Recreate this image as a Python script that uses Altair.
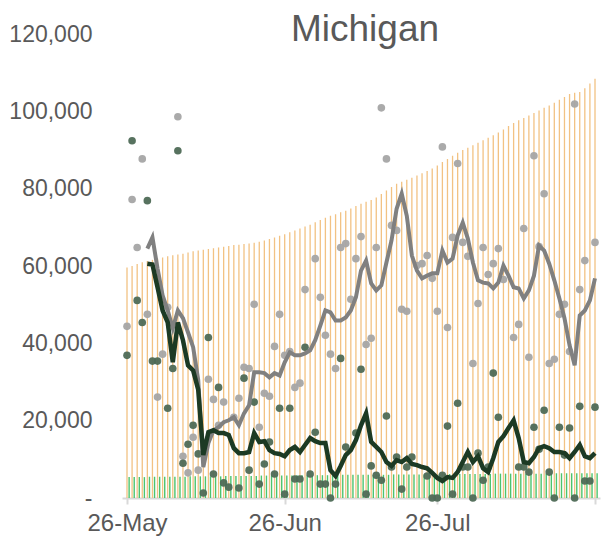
import altair as alt
import pandas as pd

START = "2020-05-26"
END = "2020-08-26"

# Daily values, thousands, starting 26-May (day 0 .. day 92)
capacity_k = [59.6, 60.0, 60.5, 61.0, 61.3, 61.6, 61.9, 62.2, 62.5, 62.8,
              63.0, 63.2, 63.5, 63.8, 64.0, 64.2, 64.4, 64.6, 64.8, 65.0,
              65.2, 65.4, 65.5, 65.7, 65.8, 66.0, 66.3, 66.6, 67.0, 67.4,
              67.8, 68.2, 68.7, 69.2, 69.7, 70.2, 70.7, 71.3, 71.9, 72.5,
              73.0, 73.4, 73.9, 74.3, 74.9, 75.5, 76.1, 76.6, 77.1, 77.7,
              78.6, 79.5, 80.4, 81.3, 81.8, 82.3, 82.8, 83.4, 84.0, 84.6,
              85.2, 86.0, 86.9, 87.7, 88.5, 89.3, 90.0, 90.6, 91.2, 91.9,
              92.5, 93.2, 93.8, 94.5, 95.3, 96.2, 97.0, 97.7, 98.3, 98.9,
              99.6, 100.2, 100.9, 101.5, 102.2, 103.0, 103.7, 104.5, 104.8, 105.0,
              106.0, 107.2, 108.4]

baseline_k = [5.4, 5.4, 5.4, 5.4, 5.5, 5.5, 5.5, 5.5, 5.5, 5.5,
              5.5, 5.5, 5.6, 5.6, 5.6, 5.6, 5.6, 5.6, 5.6, 5.7,
              5.7, 5.7, 5.7, 5.7, 5.7, 5.7, 5.8, 5.8, 5.8, 5.8,
              5.8, 5.8, 5.8, 5.9, 5.9, 5.9, 5.9, 5.9, 5.9, 5.9,
              5.9, 6.0, 6.0, 6.0, 6.0, 6.0, 6.0, 6.0, 6.0, 6.0,
              6.0, 6.0, 6.1, 6.1, 6.1, 6.1, 6.1, 6.1, 6.1, 6.1,
              6.1, 6.1, 6.2, 6.2, 6.2, 6.2, 6.2, 6.2, 6.2, 6.2,
              6.2, 6.2, 6.3, 6.3, 6.3, 6.3, 6.3, 6.3, 6.3, 6.3,
              6.3, 6.3, 6.3, 6.4, 6.4, 6.4, 6.4, 6.4, 6.4, 6.4,
              6.4, 6.4, 6.4]

# 7-day averages, starting day 4 (30-May)
avg_start = 4
grey_avg_k = [64.5, 67.4, 59.4, 52.4, 48.5, 43.9, 48.5, 46.5, 42.8, 39.0,
              30.5, 8.0, 14.2, 17.5, 18.3, 19.6, 20.1, 20.9, 18.8, 21.9,
              24.0, 32.5, 32.5, 32.3, 31.2, 32.3, 31.7, 35.1, 37.7, 36.9,
              36.9, 37.4, 38.2, 40.8, 44.6, 48.5, 48.0, 45.9, 45.9, 46.7,
              48.5, 51.9, 58.8, 61.4, 55.5, 53.7, 55.0, 60.9, 66.6, 74.8,
              78.7, 73.0, 62.7, 58.8, 56.8, 57.5, 58.1, 58.1, 64.0, 60.9,
              61.9, 67.9, 71.2, 67.1, 60.9, 56.3, 55.7, 55.5, 54.2, 55.7,
              60.1, 57.5, 54.5, 54.2, 51.6, 53.7, 57.5, 65.3, 64.0, 60.6,
              56.3, 51.6, 46.5, 39.5, 34.3, 47.2, 48.5, 51.1, 56.8]

green_avg_k = [60.6, 60.4, 54.5, 48.5, 45.4, 35.1, 45.4, 40.8, 34.3, 33.0,
               28.0, 11.1, 17.0, 17.5, 16.8, 16.8, 16.3, 12.9, 11.6, 11.6,
               11.9, 16.8, 14.5, 14.7, 12.4, 11.6, 11.4, 10.8, 12.4, 13.2,
               11.9, 13.7, 15.5, 14.7, 14.2, 14.2, 7.2, 5.7, 8.3, 11.1,
               12.4, 15.0, 18.8, 21.9, 14.5, 13.2, 11.9, 9.3, 8.3, 9.8,
               9.3, 10.3, 8.8, 8.5, 8.0, 7.7, 6.5, 5.2, 4.4, 5.4,
               5.2, 6.7, 9.3, 11.9, 9.3, 10.8, 7.7, 6.7, 10.3, 14.5,
               16.0, 18.1, 20.1, 15.5, 9.3, 9.0, 10.6, 12.9, 13.4, 12.9,
               11.9, 11.9, 11.6, 10.3, 11.9, 13.7, 10.8, 10.3, 11.6]

# Daily points (day offset from 26-May, value in thousands)
grey_dot_day = [0, 1, 2, 3, 4, 6, 7, 8, 10, 11, 12, 13, 14, 16, 17, 18, 19, 21, 22, 23,
                24, 25, 26, 27, 28, 29, 30, 31, 32, 33, 34, 35, 37, 38, 39, 40, 41, 42, 43, 44,
                45, 46, 47, 48, 49, 50, 51, 52, 53, 54, 55, 57, 58, 59, 60, 61, 62, 63, 64, 65,
                66, 67, 68, 69, 70, 71, 72, 73, 74, 76, 77, 78, 79, 80, 81, 82, 83, 84, 85, 86,
                87, 88, 89, 90, 92]
grey_dot_k = [44.4, 77.2, 64.8, 87.7, 47.5, 26.1, 37.2, 49.3, 98.6, 10.8, 6.5, 15.7, 7.2, 30.7, 25.5, 18.8, 24.8, 20.9, 25.8, 33.8,
              33.5, 50.1, 18.3, 27.1, 26.3, 39.2, 47.5, 36.9, 37.9, 28.6, 29.7, 53.9, 61.9, 51.9, 42.1, 37.2, 33.5, 64.8, 65.8, 51.4,
              61.9, 67.6, 39.7, 41.3, 64.8, 100.9, 87.7, 70.5, 69.2, 48.8, 48.3, 60.1, 60.6, 62.7, 56.8, 48.3, 90.8, 44.1, 67.4, 86.5,
              66.1, 62.5, 34.8, 50.3, 64.8, 57.8, 60.6, 64.5, 56.5, 41.5, 44.9, 69.7, 36.4, 88.5, 65.0, 78.7, 34.8, 35.9, 47.5, 50.1,
              37.9, 101.9, 53.9, 61.4, 66.1]

green_dot_day = [0, 1, 2, 3, 4, 5, 6, 8, 9, 10, 11, 12, 13, 14, 15, 16, 17, 18, 19, 20,
                 22, 23, 24, 25, 26, 27, 28, 29, 30, 31, 32, 33, 34, 35, 36, 37, 38, 39, 40, 41,
                 42, 43, 45, 46, 47, 48, 49, 50, 51, 52, 53, 54, 55, 56, 59, 60, 61, 62, 63, 64,
                 65, 66, 67, 68, 69, 70, 71, 72, 73, 77, 78, 79, 80, 81, 82, 83, 84, 85, 86, 87,
                 88, 89, 90, 91, 92]
green_dot_k = [36.9, 92.4, 51.1, 45.4, 76.9, 35.4, 35.4, 23.2, 33.5, 89.8, 9.0, 13.9, 18.8, 11.4, 1.3, 41.5, 6.2, 28.6, 3.9, 2.8,
               2.6, 31.0, 7.2, 24.8, 3.6, 8.8, 14.5, 6.2, 23.2, 1.0, 23.2, 4.9, 4.9, 39.0, 6.2, 17.0, 3.6, 3.6, 0.0, 3.6,
               36.1, 13.2, 16.8, 33.3, 1.0, 8.3, 5.9, 4.6, 21.2, 8.0, 10.6, 2.3, 8.0, 10.6, 5.7, 0.0, 0.0, 5.9, 18.6, 1.0,
               24.5, 8.0, 8.0, 0.0, 11.6, 4.6, 8.0, 32.3, 20.9, 8.0, 8.0, 6.7, 18.3, 12.6, 22.7, 6.7, 0.0, 18.3, 11.1, 18.1,
               0.0, 23.7, 4.4, 4.4, 23.5]

y_ticks = [0, 20000, 40000, 60000, 80000, 100000, 120000]
x_tick_dates = ["2020-05-26", "2020-06-26", "2020-07-26", "2020-08-26"]

start = pd.Timestamp(START)


def to_dates(days):
    return [(start + pd.Timedelta(days=int(d))).strftime("%Y-%m-%d") for d in days]


bars_df = pd.DataFrame({
    "date": to_dates(range(len(capacity_k))),
    "capacity": [v * 1000 for v in capacity_k],
    "baseline": [v * 1000 for v in baseline_k],
})
grey_avg_df = pd.DataFrame({
    "date": to_dates(range(avg_start, avg_start + len(grey_avg_k))),
    "v": [v * 1000 for v in grey_avg_k],
})
green_avg_df = pd.DataFrame({
    "date": to_dates(range(avg_start, avg_start + len(green_avg_k))),
    "v": [v * 1000 for v in green_avg_k],
})
grey_dots_df = pd.DataFrame({"date": to_dates(grey_dot_day), "v": [v * 1000 for v in grey_dot_k]})
green_dots_df = pd.DataFrame({"date": to_dates(green_dot_day), "v": [v * 1000 for v in green_dot_k]})

tick_ms = [int(pd.Timestamp(d, tz="UTC").value // 10**6) for d in x_tick_dates]

FONT = "Liberation Sans"
TXT = "#595959"

x_scale = alt.Scale(type="utc", domain=[START, END])
x_axis = alt.Axis(
    values=tick_ms,
    labelExpr="utcmonth(datum.value) == 7 ? '' : utcFormat(datum.value, '%d-%b')",
    labelFlush=False,
    labelFont=FONT, labelFontSize=24, labelColor=TXT,
    domainColor="#D9D9D9", domainWidth=2,
    tickColor="#D9D9D9", tickWidth=2, tickSize=6,
    labelPadding=7, grid=False, title=None,
)
y_scale = alt.Scale(domain=[0, 120000], nice=False)
y_axis = alt.Axis(
    values=y_ticks,
    labelExpr="datum.value == 0 ? '-  ' : format(datum.value, ',')",
    labelFont=FONT, labelFontSize=23, labelColor=TXT,
    domain=False, ticks=False, grid=False, labelPadding=30, title=None,
)


def X(field):
    return alt.X(field, scale=x_scale, axis=x_axis, title=None)


def Y(field):
    return alt.Y(field, scale=y_scale, axis=y_axis, title=None)


orange = alt.Chart(bars_df).mark_bar(width=1.3, color="#F2C283").encode(
    x=X("date:T"), y=Y("capacity:Q")
)

green_bars = alt.Chart(bars_df).transform_calculate(
    shifted="time(toDate(datum.date)) + 36000000"
).mark_bar(width=1.4, color="#4CC46E").encode(
    x=X("shifted:T"), y=Y("baseline:Q")
)

grey_dots = alt.Chart(grey_dots_df).mark_circle(size=58, color="#A5A5A5", opacity=0.95).encode(
    x=X("date:T"), y=Y("v:Q")
)
green_dots = alt.Chart(green_dots_df).mark_circle(size=58, color="#4E6A56", opacity=0.95).encode(
    x=X("date:T"), y=Y("v:Q")
)
grey_line = alt.Chart(grey_avg_df).mark_line(color="#808080", strokeWidth=4).encode(
    x=X("date:T"), y=Y("v:Q")
)
green_line = alt.Chart(green_avg_df).mark_line(color="#1C3A24", strokeWidth=4.5).encode(
    x=X("date:T"), y=Y("v:Q")
)

chart = alt.layer(orange, green_bars, grey_dots, green_dots, grey_line, green_line).properties(
    width=478,
    height=464,
    title=alt.TitleParams(
        "Michigan", font=FONT, fontSize=37, fontWeight="normal", color=TXT,
        anchor="middle", baseline="alphabetic", offset=-8, dx=4, dy=47,
    ),
    autosize=alt.AutoSizeParams(type="none"),
    padding={"left": 114, "top": 26, "right": 5, "bottom": 42},
).configure_view(stroke=None)

chart.save("out.html", embed_options={"renderer": "svg", "actions": False})
